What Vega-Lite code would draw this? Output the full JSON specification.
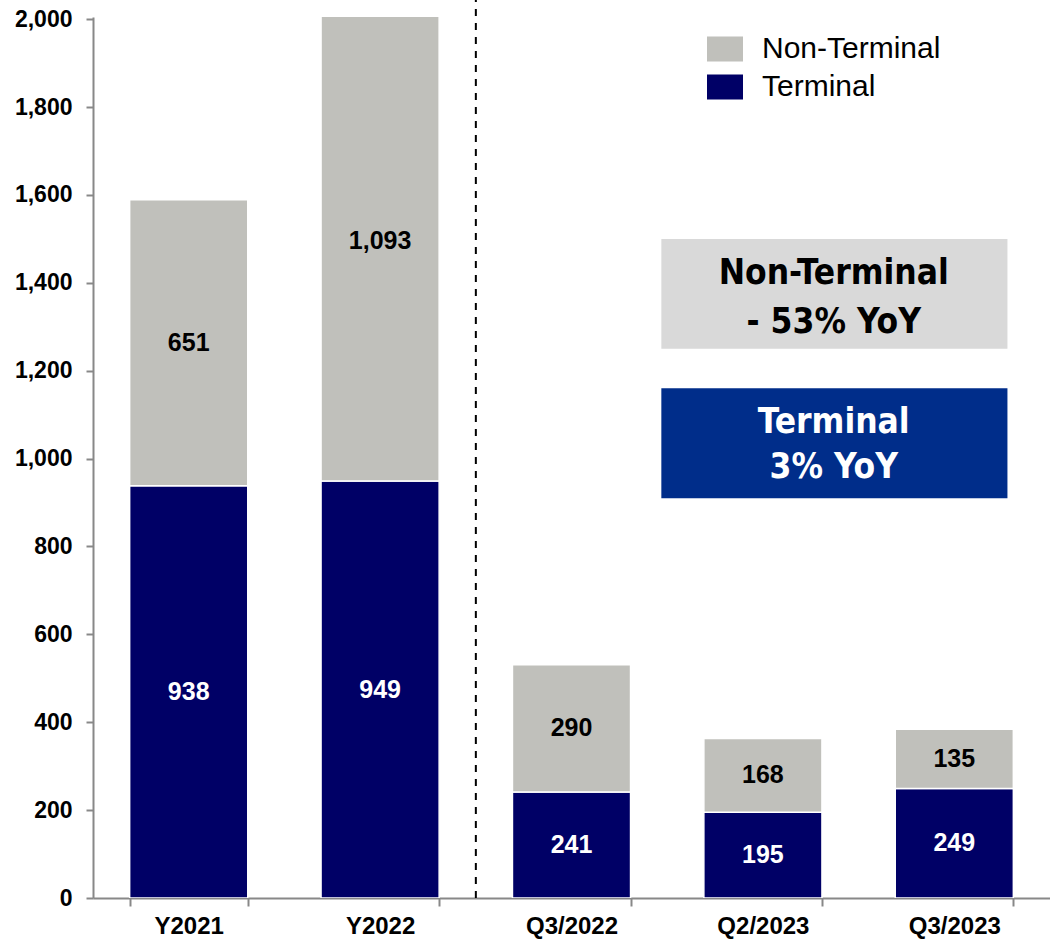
{
  "$schema": "https://vega.github.io/schema/vega-lite/v6.json",
  "width": 957,
  "height": 881,
  "autosize": {"type": "none"},
  "padding": {"left": 93, "top": 17, "right": 0, "bottom": 44},
  "config": {"view": {"stroke": null}, "font": "Liberation Sans"},
  "datasets": {
    "bars": [
      {"category": "Y2021", "series": "Terminal", "value": 938},
      {"category": "Y2021", "series": "Non-Terminal", "value": 651},
      {"category": "Y2022", "series": "Terminal", "value": 949},
      {"category": "Y2022", "series": "Non-Terminal", "value": 1093},
      {"category": "Q3/2022", "series": "Terminal", "value": 241},
      {"category": "Q3/2022", "series": "Non-Terminal", "value": 290},
      {"category": "Q2/2023", "series": "Terminal", "value": 195},
      {"category": "Q2/2023", "series": "Non-Terminal", "value": 168},
      {"category": "Q3/2023", "series": "Terminal", "value": 249},
      {"category": "Q3/2023", "series": "Non-Terminal", "value": 135}
    ]
  },
  "layer": [
    {
      "data": {"name": "bars"},
      "mark": {"type": "bar", "clip": true, "stroke": "white", "strokeWidth": 1.5},
      "encoding": {
        "x": {
          "field": "category", "type": "nominal",
          "sort": ["Y2021", "Y2022", "Q3/2022", "Q2/2023", "Q3/2023"],
          "scale": {"paddingInner": 0.383, "paddingOuter": 0.1915},
          "axis": {
            "title": null, "labelAngle": 0, "labelFont": "Liberation Sans", "labelFontSize": 24,
            "labelFontWeight": "bold", "labelColor": "black", "tickBand": "extent",
            "tickSize": 8, "tickWidth": 2, "tickColor": "#888888", "domainColor": "#888888",
            "domainWidth": 2, "labelPadding": 8
          }
        },
        "y": {
          "field": "value", "type": "quantitative", "stack": "zero",
          "scale": {"domain": [0, 2005], "nice": false},
          "axis": {
            "title": null, "values": [0, 200, 400, 600, 800, 1000, 1200, 1400, 1600, 1800, 2000],
            "format": ",d", "labelFont": "Liberation Sans", "labelFontSize": 23, "labelFontWeight": "bold",
            "labelColor": "black", "tickSize": 7, "tickWidth": 2, "tickColor": "#888888",
            "domainColor": "#888888", "domainWidth": 2, "labelPadding": 14, "grid": false
          }
        },
        "color": {
          "field": "series", "type": "nominal",
          "scale": {"domain": ["Non-Terminal", "Terminal"], "range": ["#c0c0bb", "#000066"]},
          "legend": {
            "title": null, "orient": "none", "legendX": 614, "legendY": 14, "padding": 0,
            "labelFont": "Liberation Sans", "labelFontSize": 30, "labelColor": "black",
            "labelOffset": 19, "rowPadding": 5, "labelLimit": 400,
            "symbolType": "M-1,-0.69L1,-0.69L1,0.69L-1,0.69Z", "symbolSize": 1296,
            "symbolStrokeWidth": 0, "symbolOpacity": 1
          }
        },
        "order": {"field": "series", "sort": "descending"}
      }
    },
    {
      "data": {"name": "bars"},
      "mark": {"type": "text", "font": "Liberation Sans", "fontSize": 25, "fontWeight": "bold", "baseline": "middle"},
      "encoding": {
        "x": {"field": "category", "type": "nominal", "sort": ["Y2021", "Y2022", "Q3/2022", "Q2/2023", "Q3/2023"]},
        "y": {"field": "value", "type": "quantitative", "stack": "zero", "bandPosition": 0.5},
        "text": {"field": "value", "type": "quantitative", "format": ",d"},
        "color": {"condition": {"test": "datum.series === 'Terminal'", "value": "white"}, "value": "black"},
        "order": {"field": "series", "sort": "descending"}
      }
    },
    {
      "data": {"values": [{}]},
      "mark": {"type": "rule", "color": "black", "strokeWidth": 2, "strokeDash": [7, 7]},
      "encoding": {
        "x": {"datum": "Q3/2022", "bandPosition": -0.31},
        "y": {"datum": 0},
        "y2": {"datum": 2045}
      }
    },
    {
      "data": {"values": [{"note": "Non-Terminal\n- 53%  YoY"}]},
      "layer": [
        {
          "mark": {"type": "rect", "color": "#d9d9d9"},
          "encoding": {
            "x": {"datum": "Q2/2023", "bandPosition": -0.36},
            "x2": {"datum": "Q3/2023", "bandPosition": 0.95},
            "y": {"datum": 1250},
            "y2": {"datum": 1500}
          }
        },
        {
          "mark": {"type": "text", "font": "DejaVu Sans Condensed", "fontSize": 35, "fontWeight": "bold", "color": "black", "lineBreak": "\n", "lineHeight": 49, "baseline": "middle", "align": "center"},
          "encoding": {
            "x": {"datum": "Q2/2023", "bandPosition": 1.1},
            "y": {"datum": 1422},
            "text": {"field": "note"}
          }
        }
      ]
    },
    {
      "data": {"values": [{"note": "Terminal\n3% YoY"}]},
      "layer": [
        {
          "mark": {"type": "rect", "color": "#002d8a"},
          "encoding": {
            "x": {"datum": "Q2/2023", "bandPosition": -0.36},
            "x2": {"datum": "Q3/2023", "bandPosition": 0.95},
            "y": {"datum": 910},
            "y2": {"datum": 1160}
          }
        },
        {
          "mark": {"type": "text", "font": "DejaVu Sans Condensed", "fontSize": 35, "fontWeight": "bold", "color": "white", "lineBreak": "\n", "lineHeight": 45, "baseline": "middle", "align": "center"},
          "encoding": {
            "x": {"datum": "Q2/2023", "bandPosition": 1.1},
            "y": {"datum": 1083},
            "text": {"field": "note"}
          }
        }
      ]
    }
  ]
}
